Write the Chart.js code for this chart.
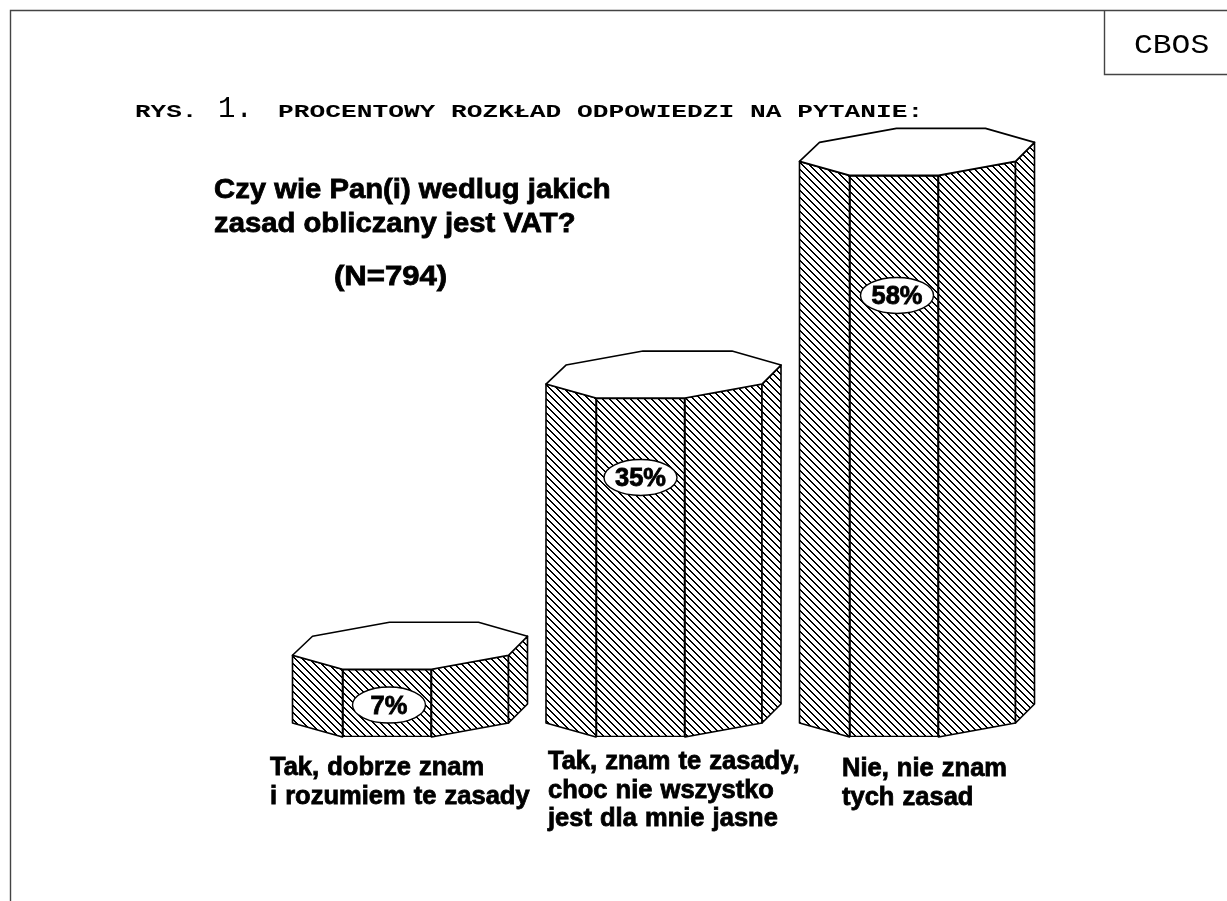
<!DOCTYPE html>
<html>
<head>
<meta charset="utf-8">
<title>CBOS - VAT</title>
<script src="https://cdn.jsdelivr.net/npm/chart.js@4"></script>
<style>
    html, body { margin: 0; padding: 0; background: #fff; overflow: hidden; }
    canvas { display: block; }
</style>
</head>
<body>
<canvas id="vatChart" width="1227" height="901"></canvas>
<script>
// Chart data
const categories = ['Tak, dobrze znam', 'Tak, znam te zasady,', 'Nie, nie znam'];
const categoryLines = [
    ['Tak, dobrze znam', 'i rozumiem te zasady'],
    ['Tak, znam te zasady,', 'choc nie wszystko', 'jest dla mnie jasne'],
    ['Nie, nie znam', 'tych zasad']
];
const percents = [7, 35, 58];
const percentLabels = ['7%', '35%', '58%'];

// Hatch used for all the faces of the columns, a jagged 2px stair
function makeHatch() {
    const tile = document.createElement('canvas');
    tile.width = 7;
    tile.height = 7;
    const c = tile.getContext('2d');
    c.fillStyle = '#fff';
    c.fillRect(0, 0, 7, 7);
    c.fillStyle = '#000';
    for (let i = 0; i < 7; i++) {
        c.fillRect(i, i, 1, 1);
        c.fillRect((i + 1) % 7, i, 1, 1);
    }
    return c.createPattern(tile, 'repeat');
}
const hatch = makeHatch();

function poly(ctx, pts, fill) {
    ctx.beginPath();
    pts.forEach((p, i) => i ? ctx.lineTo(p[0], p[1]) : ctx.moveTo(p[0], p[1]));
    ctx.closePath();
    ctx.fillStyle = fill;
    ctx.fill();
    ctx.stroke();
}

// Text stretched sideways, the original fonts are wider than the installed ones
function wideText(ctx, str, x, y, font, stretch, bold) {
    ctx.save();
    ctx.translate(x, y);
    ctx.scale(stretch, 1);
    ctx.font = font;
    ctx.fillStyle = '#000';
    ctx.fillText(str, 0, 0);
    if (bold) {
        ctx.strokeStyle = '#000';
        ctx.lineWidth = bold;
        ctx.strokeText(str, 0, 0);
    }
    ctx.restore();
}

// Octagonal prism round every bar
const prismPlugin = {
    id: 'prism',
    afterDatasetsDraw(chart) {
        const ctx = chart.ctx;
        const yScale = chart.scales.y;
        ctx.save();
        ctx.strokeStyle = '#000';
        ctx.lineWidth = 1.6;
        ctx.lineJoin = 'round';
        chart.getDatasetMeta(0).data.forEach(bar => {
            const l = bar.x - 44.5, r = bar.x + 44.5;
            const t = bar.y, b = yScale.getPixelForValue(0);
            // left and right faces
            poly(ctx, [[l, t], [l - 50, t - 14], [l - 50, b - 14], [l, b]], hatch);
            poly(ctx, [[r, t], [r + 77, t - 14], [r + 77, b - 14], [r, b]], hatch);
            poly(ctx, [[r + 77, t - 14], [r + 96, t - 33], [r + 96, b - 33], [r + 77, b - 14]], hatch);
            // top of the column
            poly(ctx, [
                [l, t], [l - 50, t - 14], [l - 30, t - 33], [l + 47, t - 47],
                [l + 136, t - 47], [r + 96, t - 33], [r + 77, t - 14], [r, t]
            ], '#fff');
        });
        ctx.restore();
    }
};

// Ellipses with the percentages, placed on the value scale
const labelValues = [3.3, 26.8, 45.6];
const labelShift = [2, 0, 3];
const labelPlugin = {
    id: 'percentLabels',
    afterDraw(chart) {
        const ctx = chart.ctx;
        ctx.save();
        ctx.textBaseline = 'alphabetic';
        chart.getDatasetMeta(0).data.forEach((bar, i) => {
            const cx = bar.x + labelShift[i];
            const cy = chart.scales.y.getPixelForValue(labelValues[i]);
            ctx.beginPath();
            ctx.ellipse(cx, cy, 36.5, 18, 0, 0, Math.PI * 2);
            ctx.fillStyle = '#fff';
            ctx.fill();
            ctx.strokeStyle = '#000';
            ctx.lineWidth = 1.4;
            ctx.stroke();
            ctx.font = 'bold 25px "Liberation Sans"';
            const w = ctx.measureText(percentLabels[i]).width * 1.02;
            wideText(ctx, percentLabels[i], cx - w / 2, cy + 9, 'bold 25px "Liberation Sans"', 1.02, 0.8);
        });
        ctx.restore();
    }
};

// Frame, headings and category captions
const captionX = [270, 548, 842];
const captionY = [775, 769, 776];
const textPlugin = {
    id: 'pageText',
    afterDraw(chart) {
        const ctx = chart.ctx;
        ctx.save();
        ctx.strokeStyle = '#444';
        ctx.lineWidth = 1.4;
        ctx.beginPath();
        ctx.moveTo(10.5, 901);
        ctx.lineTo(10.5, 10.5);
        ctx.lineTo(1227, 10.5);
        ctx.moveTo(1104.5, 10.5);
        ctx.lineTo(1104.5, 74.5);
        ctx.lineTo(1227, 74.5);
        ctx.stroke();

        ctx.textAlign = 'left';
        ctx.textBaseline = 'alphabetic';
        wideText(ctx, 'CBOS', 1134, 53, '27px "Liberation Mono"', 1.16);

        const head = 'bold 19px "Liberation Mono"';
        wideText(ctx, 'RYS.', 135, 117, head, 1.37);
        wideText(ctx, '1.', 218, 117, '29px "Liberation Mono"', 1);
        wideText(ctx, 'PROCENTOWY ROZKŁAD ODPOWIEDZI NA PYTANIE:', 278, 117, head, 1.38);

        const font = 'bold 28px "Liberation Sans"';
        wideText(ctx, 'Czy wie Pan(i) wedlug jakich', 214, 198, font, 1.045, 0.8);
        wideText(ctx, 'zasad obliczany jest VAT?', 214, 232, font, 1.045, 0.8);
        wideText(ctx, '(N=794)', 334, 285, font, 1.11, 0.8);

        ctx.wordSpacing = '1px';
        categoryLines.forEach((lines, i) => {
            lines.forEach((line, j) => {
                wideText(ctx, line, captionX[i], captionY[i] + j * 28.5, 'bold 25px "Liberation Sans"', 1.02, 0.8);
            });
        });
        ctx.restore();
    }
};

new Chart(document.getElementById('vatChart').getContext('2d'), {
    type: 'bar',
    data: {
        labels: categories,
        datasets: [{
            label: 'Procent odpowiedzi',
            data: percents,
            backgroundColor: hatch,
            borderColor: '#000',
            borderWidth: 1.6,
            borderSkipped: false,
            barThickness: 89
        }]
    },
    options: {
        responsive: false,
        animation: false,
        layout: { padding: { left: 260.25, right: 206.25, top: 156, bottom: 164 } },
        plugins: { legend: { display: false }, tooltip: { enabled: false } },
        scales: {
            x: { display: false },
            y: { display: false, min: 0, max: 60 }
        }
    },
    plugins: [prismPlugin, labelPlugin, textPlugin]
});
</script>
</body>
</html>
